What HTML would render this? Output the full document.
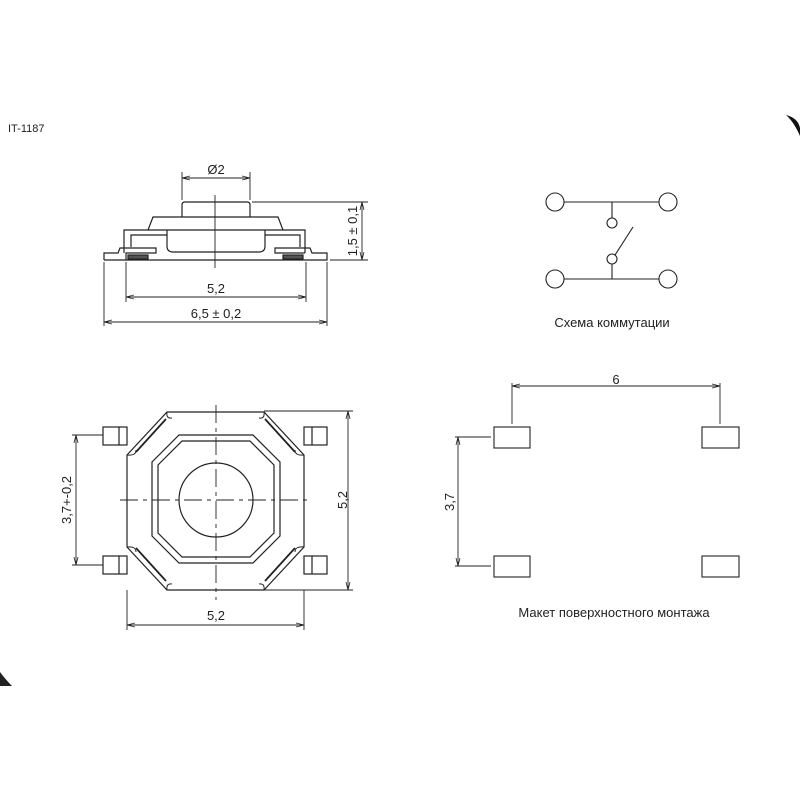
<!DOCTYPE html>
<html><head><style>body{margin:0;background:#fff}svg{display:block}</style></head><body>
<svg width="800" height="800" viewBox="0 0 800 800" xmlns="http://www.w3.org/2000/svg" font-family="Liberation Sans, sans-serif">
<defs>
<marker id="a" markerWidth="8" markerHeight="6" refX="8" refY="3" orient="auto-start-reverse" markerUnits="userSpaceOnUse"><path d="M0,1 L8,3 L0,5" fill="none" stroke="#222" stroke-width="0.8"/></marker>
</defs>
<rect width="800" height="800" fill="#fff"/>
<path d="M786,115 Q798,118 800,128 L800,136 Q794,122 786,115Z" fill="#111"/>
<path d="M0,672 Q6,680 12,686 L0,686Z" fill="#222"/>
<text x="8" y="132" font-size="11" fill="#222">IT-1187</text>
<g fill="none" stroke="#222" stroke-width="1.2">
<path d="M182,217 L182,205 Q182,202 185,202 L247,202 Q250,202 250,205 L250,217"/>
<path d="M148,230 L153,217 L278,217 L283,230"/>
<path d="M124,253 L124,230 L305,230 L305,253"/>
<path d="M131,247 L131,235 L167,235 M265,235 L300,235 L300,247"/>
<path d="M167,230 L167,246 Q167,252 173,252 L259,252 Q265,252 265,246 L265,230"/>
<path d="M104,260 L104,253 L118,253 L120,248 L156,248 L156,253 L126,253 L126,260 M104,260 L327,260 L327,253 L312,253 L310,248 L275,248 L275,253 L305,253"/>
<rect x="128" y="255" width="20" height="4" fill="#555"/><rect x="283" y="255" width="20" height="4" fill="#555"/>
</g>
<g stroke="#222" stroke-width="0.9" fill="none">
<line x1="215" y1="195" x2="215" y2="268"/>
<line x1="182" y1="172" x2="182" y2="200"/><line x1="250" y1="172" x2="250" y2="200"/>
<line x1="182" y1="178" x2="250" y2="178" marker-start="url(#a)" marker-end="url(#a)"/>
<line x1="252" y1="202" x2="368" y2="202"/><line x1="330" y1="260" x2="368" y2="260"/>
<line x1="362" y1="202" x2="362" y2="260" marker-start="url(#a)" marker-end="url(#a)"/>
<line x1="126" y1="262" x2="126" y2="302"/><line x1="306" y1="262" x2="306" y2="302"/>
<line x1="126" y1="297" x2="306" y2="297" marker-start="url(#a)" marker-end="url(#a)"/>
<line x1="104" y1="262" x2="104" y2="326"/><line x1="327" y1="262" x2="327" y2="326"/>
<line x1="104" y1="322" x2="327" y2="322" marker-start="url(#a)" marker-end="url(#a)"/>
</g>
<g font-size="13" fill="#222" text-anchor="middle">
<text x="216" y="174">Ø2</text>
<text x="216" y="293">5,2</text>
<text x="216" y="318">6,5 ± 0,2</text>
<text transform="translate(357,231) rotate(-90)">1,5 ± 0,1</text>
</g>
<g fill="none" stroke="#222" stroke-width="1.2">
<rect x="103" y="427" width="24" height="18"/><line x1="119" y1="427" x2="119" y2="445"/>
<rect x="103" y="556" width="24" height="18"/><line x1="119" y1="556" x2="119" y2="574"/>
<rect x="304" y="427" width="23" height="18"/><line x1="312" y1="427" x2="312" y2="445"/>
<rect x="304" y="556" width="23" height="18"/><line x1="312" y1="556" x2="312" y2="574"/>
<path d="M167,412 L264,412 L304,455 L304,547 L264,590 L167,590 L127,547 L127,455 Z" fill="#fff"/>
<path d="M179,435 L253,435 L280,462 L280,536 L253,563 L179,563 L152,536 L152,462 Z"/>
<path d="M182,441 L250,441 L274,465 L274,533 L250,557 L182,557 L158,533 L158,465 Z"/>
<circle cx="216" cy="500" r="37"/>
<path d="M136,452 L166,419 M265,419 L295,452 M136,548 L166,581 M265,581 L295,548" stroke-width="1.8"/>
<path d="M127,455 Q136,456 136,450 M304,455 Q295,456 295,450 M127,547 Q136,546 136,552 M304,547 Q295,546 295,552 M167,412 Q166,419 172,418 M264,412 Q265,419 259,418 M167,590 Q166,583 172,584 M264,590 Q265,583 259,584" stroke-width="1"/>
</g>
<g stroke="#222" stroke-width="0.9" fill="none">
<line x1="120" y1="500" x2="312" y2="500" stroke-dasharray="18,5,4,5"/>
<line x1="216" y1="405" x2="216" y2="600" stroke-dasharray="18,5,4,5"/>
<line x1="264" y1="411" x2="353" y2="411"/><line x1="264" y1="590" x2="353" y2="590"/>
<line x1="348" y1="411" x2="348" y2="590" marker-start="url(#a)" marker-end="url(#a)"/>
<line x1="72" y1="435" x2="103" y2="435"/><line x1="72" y1="565" x2="103" y2="565"/>
<line x1="76" y1="435" x2="76" y2="565" marker-start="url(#a)" marker-end="url(#a)"/>
<line x1="127" y1="590" x2="127" y2="630"/><line x1="304" y1="590" x2="304" y2="630"/>
<line x1="127" y1="625" x2="304" y2="625" marker-start="url(#a)" marker-end="url(#a)"/>
</g>
<g font-size="13" fill="#222" text-anchor="middle">
<text transform="translate(347,500) rotate(-90)">5,2</text>
<text transform="translate(71,500) rotate(-90)">3,7+-0,2</text>
<text x="216" y="620">5,2</text>
</g>
<g fill="none" stroke="#222" stroke-width="1.1">
<line x1="564" y1="202" x2="659" y2="202"/><line x1="564" y1="279" x2="659" y2="279"/>
<circle cx="555" cy="202" r="9"/><circle cx="668" cy="202" r="9"/>
<circle cx="555" cy="279" r="9"/><circle cx="668" cy="279" r="9"/>
<line x1="612" y1="202" x2="612" y2="218"/><circle cx="612" cy="223" r="5"/>
<line x1="612" y1="264" x2="612" y2="279"/><circle cx="612" cy="259" r="5"/>
<line x1="615" y1="255" x2="633" y2="227"/>
</g>
<text x="612" y="327" font-size="13" fill="#222" text-anchor="middle">Схема коммутации</text>
<g fill="none" stroke="#222" stroke-width="1.1">
<rect x="494" y="427" width="36" height="21"/><rect x="702" y="427" width="37" height="21"/>
<rect x="494" y="556" width="36" height="21"/><rect x="702" y="556" width="37" height="21"/>
</g>
<g stroke="#222" stroke-width="0.9" fill="none">
<line x1="512" y1="383" x2="512" y2="424"/><line x1="720" y1="383" x2="720" y2="424"/>
<line x1="512" y1="386" x2="720" y2="386" marker-start="url(#a)" marker-end="url(#a)"/>
<line x1="455" y1="437" x2="491" y2="437"/><line x1="455" y1="566" x2="491" y2="566"/>
<line x1="458" y1="437" x2="458" y2="566" marker-start="url(#a)" marker-end="url(#a)"/>
</g>
<text x="616" y="384" font-size="13" fill="#222" text-anchor="middle">6</text>
<text transform="translate(454,502) rotate(-90)" font-size="13" fill="#222" text-anchor="middle">3,7</text>
<text x="614" y="617" font-size="13" fill="#222" text-anchor="middle">Макет поверхностного монтажа</text>
</svg>
</body></html>
